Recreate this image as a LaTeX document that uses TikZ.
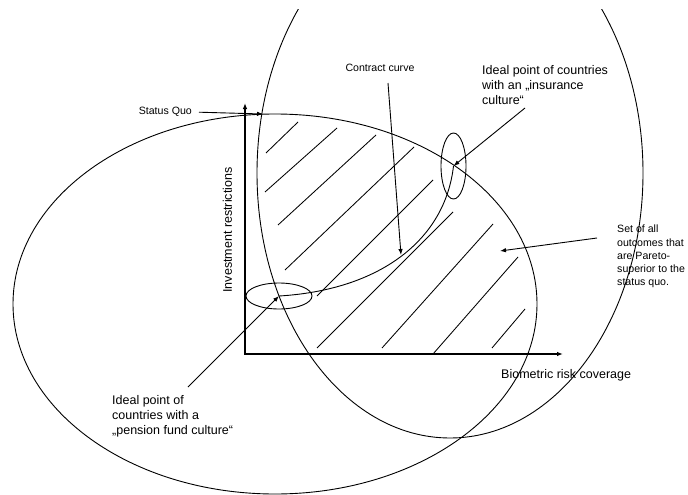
\documentclass[tikz,border=0pt]{standalone}
\usepackage{fontspec}
\setmainfont{Liberation Sans}
\usetikzlibrary{arrows.meta,shapes.geometric}
\begin{document}
\begin{tikzpicture}[x=1pt,y=-1pt,
  curve/.style={line width=0.9pt},
  axisline/.style={line width=1.1pt,{Latex[length=6pt,width=4.5pt]}-{Latex[length=6pt,width=4.5pt]}},
  arr/.style={line width=0.9pt,-{Latex[length=6pt,width=4.5pt]}},
  hatch/.style={line width=0.85pt},
  big/.style={font=\fontsize{12.5}{15}\selectfont, inner sep=0pt, align=left},
  small/.style={font=\fontsize{10.6}{13.2}\selectfont, inner sep=0pt, align=left},
  ideal/.style={draw, ellipse, inner sep=0pt, line width=0.9pt}]
\useasboundingbox (0,0) rectangle (688,495);
\fill[white] (0,0) rectangle (688,495);

% indifference curves
\draw[curve] (275,304) ellipse [x radius=262pt, y radius=190pt];
\begin{scope}
  \clip (0,10) rectangle (688,495);
  \draw[curve] (450,173) ellipse [x radius=193pt, y radius=265pt];
\end{scope}

% hatching of the Pareto-superior set
\draw[hatch] (266,153) -- (298,122);
\draw[hatch] (265,192) -- (337,128);
\draw[hatch] (278,225) -- (376,135);
\draw[hatch] (285,270) -- (414,147);
\draw[hatch] (317,296) -- (433,180);
\draw[hatch] (317,348) -- (453,212);
\draw[hatch] (382,348) -- (493,224);
\draw[hatch] (433,354) -- (518,257);
\draw[hatch] (492,348) -- (525,309);

% axes
\coordinate (O) at (245,354);
\coordinate (Ytip) at (245,103);
\coordinate (Xtip) at (563,354);
\draw[axisline] (Ytip) -- (O) -- (Xtip);
\node[big, anchor=base west] (xlabel) at (501,378) {Biometric risk coverage};
\node[big, rotate=90] (ylabel) at (227.5,230) {Investment restrictions};

% ideal points and contract curve
\node[ideal, minimum width=66pt, minimum height=26pt] (pf) at (279,296) {};
\node[ideal, minimum width=25pt, minimum height=66pt] (ins) at (453.5,166) {};
\draw[curve] (pf.center) .. controls (380,290) and (445,240) .. (ins.center);

% labels and arrows
\coordinate (SQ) at (263,114);
\node[small, anchor=east] (sqlabel) at (192,112) {Status Quo};
\draw[arr, shorten <=7pt] (sqlabel.east) -- (SQ);

\node[small] (cclabel) at (380,68) {Contract curve};
\coordinate (ccstart) at (388,83);
\coordinate (cctip) at (401,255);
\draw[arr] (ccstart) -- (cctip);

\node[big, anchor=north west] (inslabel) at (482,65) {Ideal point of countries\\with an „insurance\\culture“};
\coordinate (insstart) at (525,108);
\draw[arr] (insstart) -- (ins.center);

\node[big, anchor=north west] (penlabel) at (112,395) {Ideal point of\\countries with a\\„pension fund culture“};
\coordinate (penstart) at (188,387);
\draw[arr] (penstart) -- (pf.center);

\node[small, anchor=north west] (setlabel) at (617,225) {Set of all\\outcomes that\\are Pareto-\\superior to the\\status quo.};
\coordinate (setstart) at (597,238);
\coordinate (settip) at (500,251);
\draw[arr] (setstart) -- (settip);
\end{tikzpicture}
\end{document}
